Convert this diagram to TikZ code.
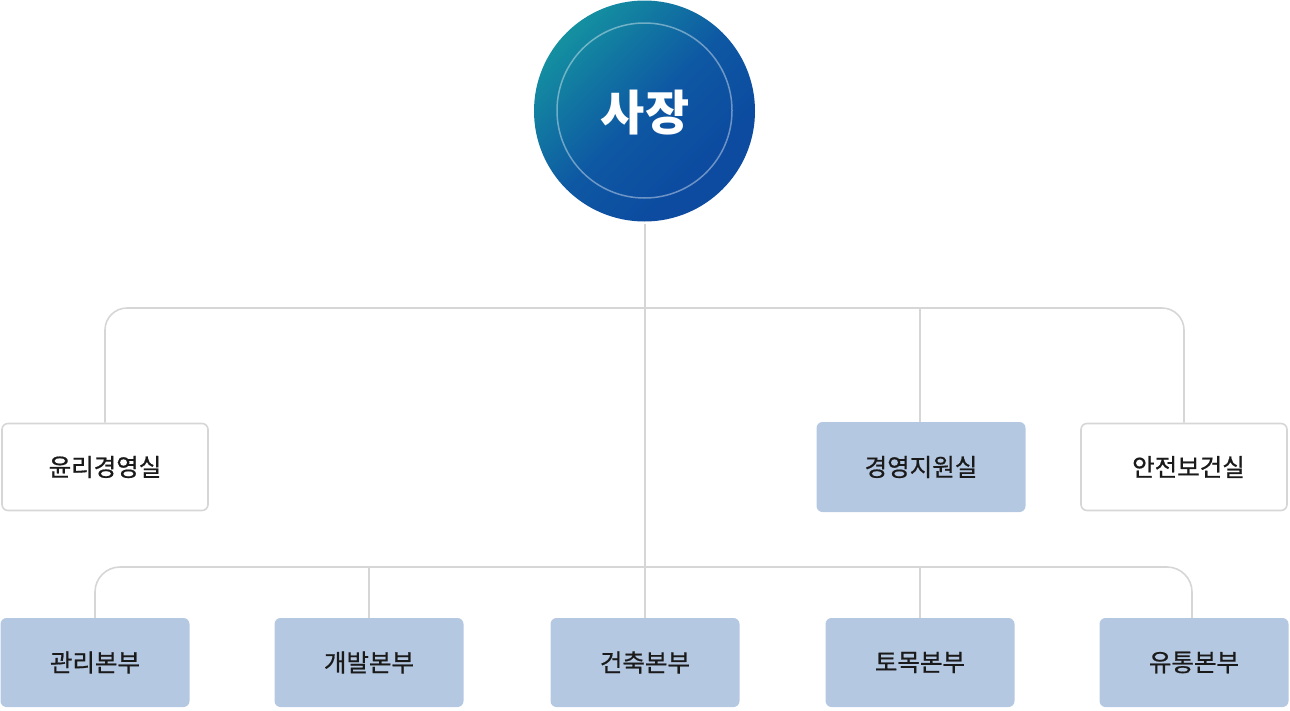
\documentclass[tikz,border=0pt]{standalone}
\usepackage{fontspec}
\setmainfont{Noto Sans CJK KR}
\newfontfamily\medfont[FakeBold=0.7]{Noto Sans CJK KR}
\begin{document}
\begin{tikzpicture}[x=1pt,y=-1pt]
\definecolor{tealA}{HTML}{1597A0}
\definecolor{blueM}{HTML}{0E58A3}
\definecolor{blueB}{HTML}{0C4BA0}
\definecolor{boxfill}{HTML}{B5C8E2}
\definecolor{linegray}{HTML}{D6D6D6}
\definecolor{txt}{HTML}{1A1A1A}
\pgfdeclareverticalshading{bossshade}{100bp}{color(0bp)=(blueB); color(32bp)=(blueB); color(50bp)=(blueM); color(78bp)=(tealA); color(100bp)=(tealA)}
\tikzset{
  conn/.style={draw=linegray, line width=1.6pt},
  whitebox/.style={draw=linegray, line width=1.6pt, fill=white, rounded corners=6pt,
    minimum width=206pt, minimum height=87pt, inner sep=0pt, text=txt,
    font=\medfont\fontsize{24.5pt}{28pt}\selectfont},
  bluebox/.style={fill=boxfill, rounded corners=6pt,
    minimum width=209pt, minimum height=90pt, inner sep=0pt, text=txt,
    font=\medfont\fontsize{24.5pt}{28pt}\selectfont},
  divbox/.style={bluebox, minimum width=189pt, minimum height=89pt},
}
\useasboundingbox (0,0) rectangle (1290,710);
% boss
\shade[shading=bossshade, shading angle=45] (644.5,111) circle (110.5);
\draw[white, opacity=0.4, line width=1.5pt] (644.5,110.5) circle (87.5);
\node[circle, minimum size=221pt, inner sep=0pt, text=white,
  font=\fontsize{48pt}{52pt}\selectfont\bfseries] (boss) at (645,113) {사장};
% first row
\node[whitebox] (ethics) at (105,467) {윤리경영실};
\node[bluebox] (support) at (921,467) {경영지원실};
\node[whitebox] (safety) at (1184,467) {\hspace{9pt}안전보건실};
% divisions
\node[divbox] (d1) at (95,662.5) {관리본부};
\node[divbox] (d2) at (369,662.5) {개발본부};
\node[divbox] (d3) at (645,662.5) {건축본부};
\node[divbox] (d4) at (920,662.5) {토목본부};
\node[divbox] (d5) at (1194,662.5) {유통본부};
\coordinate (bus1) at (645,308);
\coordinate (bus2) at (645,567);
% connectors
\draw[conn, rounded corners=22pt] (ethics.north) |- (bus1) -| (safety.north);
\draw[conn] ([xshift=-1pt]support.north) -- ([xshift=-1pt]support.north |- bus1);
\draw[conn, rounded corners=25pt] (d1.north) |- (bus2) -| ([xshift=-2pt]d5.north);
\draw[conn] (d2.north) -- (d2.north |- bus2);
\draw[conn] (d4.north) -- (d4.north |- bus2);
\draw[conn] (boss.south) -- (d3.north);
\end{tikzpicture}
\end{document}
